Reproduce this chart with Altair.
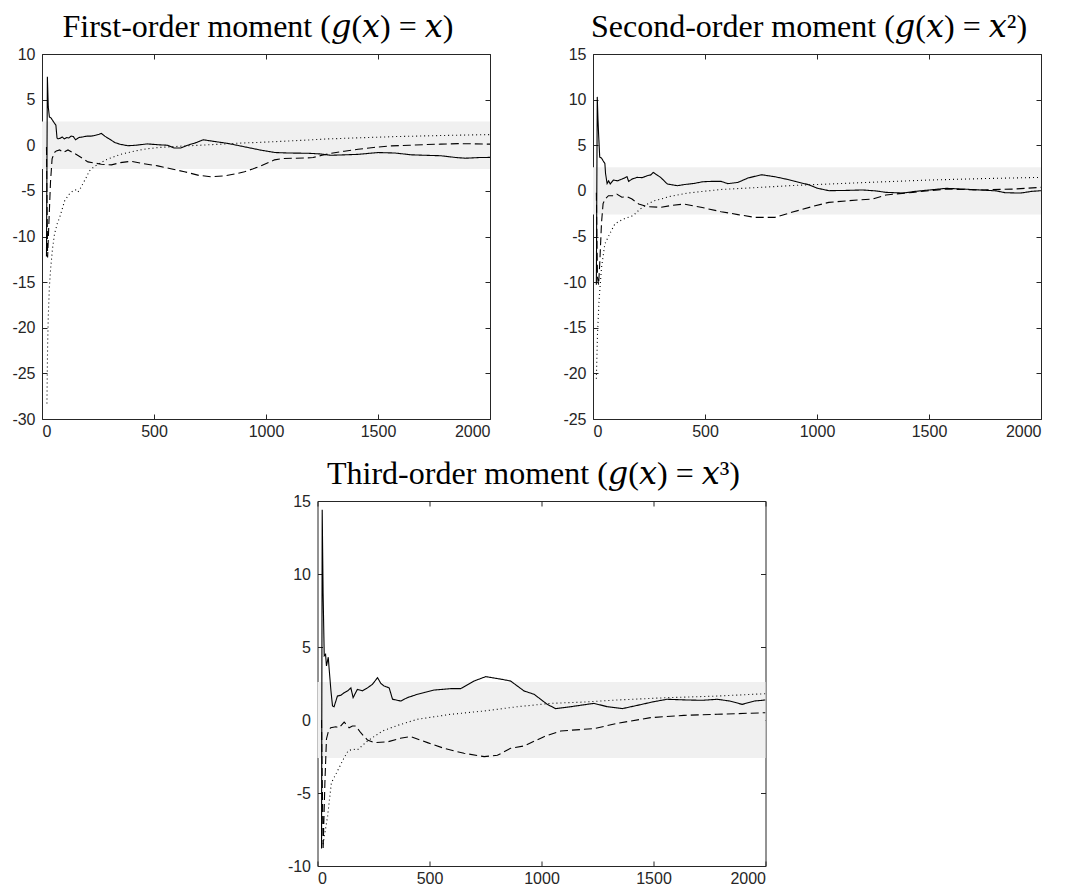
import altair as alt
import pandas as pd

# ---------------- data ----------------
X_DOMAIN = [0, 2000]
X_TICKS = [0, 500, 1000, 1500, 2000]
BAND = [-2.6, 2.6]

TITLES = [
    "First-order moment (\U0001D454(\U0001D465) = \U0001D465)",
    "Second-order moment (\U0001D454(\U0001D465) = \U0001D465\u00b2)",
    "Third-order moment (\U0001D454(\U0001D465) = \U0001D465\u00b3)",
]
Y_DOMAINS = [[-30, 10], [-25, 15], [-10, 15]]
Y_TICKS = [
    [-30, -25, -20, -15, -10, -5, 0, 5, 10],
    [-25, -20, -15, -10, -5, 0, 5, 10, 15],
    [-10, -5, 0, 5, 10, 15],
]

# Panel 1
P1_SOLID_X = [20, 24, 28, 33, 40, 48, 56, 62, 67, 72, 80, 90, 100, 110, 120, 130, 140, 150, 165, 180,
              200, 220, 240, 255, 265, 280, 300, 325, 350, 383, 420, 470, 520, 560, 590, 620, 650, 690,
              720, 760, 830, 920, 980, 1040, 1100, 1190, 1240, 1290, 1350, 1410, 1500, 1575, 1650, 1710,
              1780, 1850, 1890, 1950, 2000]
P1_SOLID_Y = [-12.2, 7.5, 4.2, 3.1, 3.0, 2.7, 2.4, 2.2, 0.8, 0.7, 0.75, 0.9, 0.7, 0.85, 0.8, 1.0, 0.95,
              0.6, 0.85, 0.9, 1.0, 1.0, 1.1, 1.2, 1.3, 1.0, 0.7, 0.3, 0.1, -0.05, 0.0, 0.15, 0.05, 0.0,
              -0.3, -0.3, 0.0, 0.3, 0.6, 0.45, 0.2, -0.25, -0.55, -0.8, -0.85, -0.88, -0.95, -1.1, -1.05,
              -1.0, -0.8, -0.85, -1.05, -1.1, -1.15, -1.35, -1.42, -1.35, -1.33]
P1_DASH_X = [20, 25, 30, 38, 45, 55, 64, 79, 94, 116, 146, 175, 205, 265, 310, 350, 398, 450, 517, 580,
             636, 700, 755, 815, 870, 904, 940, 978, 1038, 1080, 1128, 1170, 1210, 1250, 1292, 1350,
             1411, 1480, 1560, 1640, 1709, 1780, 1857, 1930, 2000]
P1_DASH_Y = [-0.2, -12.3, -9.0, -4.0, -1.5, -0.8, -0.62, -0.51, -0.8, -0.51, -0.91, -1.35, -1.82, -2.08,
             -2.15, -1.9, -1.75, -2.0, -2.26, -2.6, -2.9, -3.3, -3.45, -3.35, -3.1, -2.9, -2.6, -2.26,
             -1.6, -1.45, -1.42, -1.4, -1.35, -1.1, -0.88, -0.65, -0.44, -0.25, -0.07, 0.0, 0.07, 0.12,
             0.18, 0.15, 0.12]
P1_DOT_X = [22, 25, 28, 33, 39, 47, 56, 68, 79, 90, 101, 120, 138, 150, 160, 172, 183, 198, 212, 235,
            257, 285, 317, 350, 391, 430, 465, 520, 584, 660, 762, 870, 985, 1130, 1282, 1430, 1579,
            1790, 2000]
P1_DOT_Y = [-28.3, -22, -18.8, -15.5, -13.4, -11.3, -9.7, -8.6, -7.9, -7.0, -6.1, -5.4, -5.0, -4.9,
            -5.15, -4.7, -4.2, -3.5, -2.8, -2.3, -2.0, -1.6, -1.3, -1.0, -0.77, -0.55, -0.4, -0.25,
            -0.15, -0.05, 0.07, 0.22, 0.33, 0.5, 0.7, 0.83, 0.95, 1.07, 1.17]

# Panel 2
P2_SOLID_X = [15, 19, 22, 25, 30, 38, 45, 53, 56, 63, 70, 77, 91, 110, 130, 152, 159, 175, 197, 220,
              242, 258, 269, 285, 302, 332, 377, 410, 452, 490, 527, 572, 602, 647, 692, 752, 812, 860,
              902, 962, 1000, 1053, 1130, 1203, 1260, 1308, 1383, 1440, 1503, 1578, 1650, 1728, 1800,
              1840, 1908, 1960, 2000]
P2_SOLID_Y = [-10.3, 10.3, 8.0, 6.2, 3.7, 3.6, 3.3, 3.0, 1.9, 0.8, 1.1, 0.75, 1.19, 1.1, 1.3, 1.55,
              1.04, 1.3, 1.48, 1.45, 1.66, 1.75, 2.03, 1.75, 1.48, 0.75, 0.57, 0.7, 0.82, 1.0, 1.04,
              1.04, 0.79, 0.93, 1.41, 1.77, 1.55, 1.3, 1.04, 0.68, 0.3, 0.02, 0.05, 0.1, 0.0, -0.16,
              -0.24, -0.05, 0.1, 0.28, 0.2, 0.1, 0.0, -0.2, -0.24, -0.05, 0.02]
P2_DASH_X = [15, 20, 25, 30, 38, 45, 54, 69, 91, 106, 129, 152, 174, 204, 242, 302, 350, 407, 482, 572,
             647, 722, 812, 887, 977, 1053, 1143, 1248, 1308, 1428, 1578, 1728, 1878, 2000]
P2_DASH_Y = [-0.2, -9.5, -10.3, -8.0, -3.5, -1.4, -0.9, -0.53, -0.53, -0.35, -0.7, -0.64, -0.9, -1.44,
             -1.73, -1.8, -1.6, -1.44, -1.8, -2.28, -2.6, -2.9, -2.9, -2.35, -1.73, -1.26, -1.07, -0.9,
             -0.45, -0.16, 0.2, 0.1, 0.2, 0.39]
P2_DOT_X = [15, 20, 27, 38, 53, 75, 98, 135, 180, 210, 240, 270, 302, 345, 420, 452, 570, 752, 900,
            1053, 1250, 1503, 1750, 2000]
P2_DOT_Y = [-20.6, -15.7, -12.0, -8.4, -5.8, -4.7, -3.6, -3.1, -2.7, -2.0, -1.5, -1.1, -0.9, -0.6,
            -0.25, -0.16, 0.15, 0.39, 0.6, 0.75, 0.95, 1.19, 1.35, 1.48]

# Panel 3
P3_SOLID_X = [18, 21, 25, 30, 36, 40, 48, 52, 60, 67, 74, 89, 105, 119, 135, 149, 159, 178, 200, 223,
              245, 268, 283, 297, 320, 335, 372, 401, 446, 480, 520, 560, 595, 639, 699, 751, 818, 862,
              922, 967, 1026, 1063, 1130, 1234, 1294, 1361, 1427, 1500, 1561, 1651, 1720, 1784, 1840,
              1896, 1950, 2000]
P3_SOLID_Y = [-8.8, 14.4, 8.7, 4.4, 4.5, 3.7, 4.3, 3.5, 2.0, 0.96, 0.91, 1.64, 1.7, 1.87, 2.0, 2.2,
              1.53, 2.1, 2.0, 2.2, 2.44, 2.9, 2.5, 2.33, 2.2, 1.42, 1.3, 1.53, 1.76, 1.9, 2.05, 2.1,
              2.15, 2.15, 2.67, 2.97, 2.8, 2.67, 1.99, 1.76, 1.07, 0.78, 0.91, 1.14, 0.91, 0.78, 1.0,
              1.25, 1.42, 1.37, 1.35, 1.42, 1.3, 1.07, 1.3, 1.37]
P3_DASH_X = [18, 25, 33, 40, 50, 59, 82, 97, 119, 141, 156, 171, 193, 223, 253, 312, 370, 416, 491,
             565, 654, 744, 803, 862, 922, 1011, 1086, 1234, 1338, 1487, 1636, 1784, 2000]
P3_DASH_Y = [0.0, -8.9, -4.3, -1.3, -0.7, -0.53, -0.46, -0.53, -0.14, -0.53, -0.41, -0.41, -0.87,
             -1.37, -1.55, -1.5, -1.25, -1.14, -1.55, -1.94, -2.28, -2.51, -2.42, -1.94, -1.78, -1.14,
             -0.75, -0.59, -0.23, 0.16, 0.32, 0.39, 0.5]
P3_DOT_X = [25, 45, 62, 89, 115, 137, 159, 178, 223, 290, 357, 446, 595, 744, 892, 1041, 1190, 1338,
            1561, 1784, 2000]
P3_DOT_Y = [-8.5, -6.6, -4.3, -3.5, -2.7, -2.1, -2.0, -2.05, -1.44, -0.75, -0.37, 0.05, 0.39, 0.62,
            0.91, 1.14, 1.23, 1.37, 1.53, 1.64, 1.8]

PANELS = [
    {"solid": (P1_SOLID_X, P1_SOLID_Y), "dashed": (P1_DASH_X, P1_DASH_Y), "dotted": (P1_DOT_X, P1_DOT_Y)},
    {"solid": (P2_SOLID_X, P2_SOLID_Y), "dashed": (P2_DASH_X, P2_DASH_Y), "dotted": (P2_DOT_X, P2_DOT_Y)},
    {"solid": (P3_SOLID_X, P3_SOLID_Y), "dashed": (P3_DASH_X, P3_DASH_Y), "dotted": (P3_DOT_X, P3_DOT_Y)},
]

# ---------------- styling ----------------
AX_COLOR = "#262626"
LABEL_FONT = "Liberation Sans"
TITLE_FONT = "Liberation Serif, DejaVu Serif"
W, H = 448, 365
TICK = 5
DASHES = {"solid": [1, 0], "dashed": [8, 4], "dotted": [1, 3]}
LEFT_EXTENT = [42, 42, 48]


def axis(orient, values, labels=True, pad=5, extent=0):
    return alt.Axis(
        orient=orient, values=values, labels=labels, tickSize=TICK, offset=-TICK,
        domain=False, grid=False, ticks=True, tickColor=AX_COLOR, tickWidth=1,
        labelFont=LABEL_FONT, labelFontSize=16, labelColor=AX_COLOR, labelPadding=pad,
        labelExpr="datum.value + ''", title=None, minExtent=extent, maxExtent=extent,
    )


def make_panel(i):
    rows = []
    for name, (xs, ys) in PANELS[i].items():
        assert len(xs) == len(ys), (i, name)
        for xv, yv in zip(xs, ys):
            rows.append({"x": xv, "y": yv, "series": name})
    df = pd.DataFrame(rows)
    band_df = pd.DataFrame({"x": [X_DOMAIN[0]], "x2": [X_DOMAIN[1]], "y": [BAND[0]], "y2": [BAND[1]]})

    xs = alt.Scale(domain=X_DOMAIN, nice=False, zero=False)
    ys = alt.Scale(domain=Y_DOMAINS[i], nice=False, zero=False)

    band = alt.Chart(band_df).mark_rect(color="#f0f0f0").encode(
        x=alt.X("x:Q", scale=xs, axis=axis("bottom", X_TICKS, pad=4, extent=22)),
        x2="x2:Q",
        y=alt.Y("y:Q", scale=ys, axis=axis("left", Y_TICKS[i], pad=7, extent=LEFT_EXTENT[i])),
        y2="y2:Q",
    )
    lines = alt.Chart(df).mark_line(color="black", strokeWidth=1.1, clip=True).encode(
        x=alt.X("x:Q", scale=xs, axis=None),
        y=alt.Y("y:Q", scale=ys, axis=None),
        detail="series:N",
        strokeDash=alt.StrokeDash(
            "series:N",
            scale=alt.Scale(domain=list(DASHES.keys()), range=list(DASHES.values())),
            legend=None,
        ),
    )
    mirror = alt.Chart(band_df).mark_rect(opacity=0).encode(
        x=alt.X("x:Q", scale=xs, axis=axis("top", X_TICKS, labels=False)),
        x2="x2:Q",
        y=alt.Y("y:Q", scale=ys, axis=axis("right", Y_TICKS[i], labels=False)),
        y2="y2:Q",
    )
    return alt.layer(band, lines, mirror).resolve_axis(x="independent", y="independent").properties(
        width=W, height=H,
        title=alt.TitleParams(
            TITLES[i], font=TITLE_FONT, fontSize=32, fontWeight="normal", color="black",
            anchor="middle", baseline="alphabetic", offset=-23, dx=-8,
        ),
    )


row = alt.hconcat(make_panel(0), make_panel(1), spacing=64)
chart = alt.vconcat(row, make_panel(2), spacing=17, center=True).properties(
    padding={"left": 4, "top": 10, "right": 4, "bottom": 2},
    background="white",
).configure_view(stroke=AX_COLOR, strokeWidth=1)

chart.save("out.html", embed_options={"renderer": "svg", "actions": False})
